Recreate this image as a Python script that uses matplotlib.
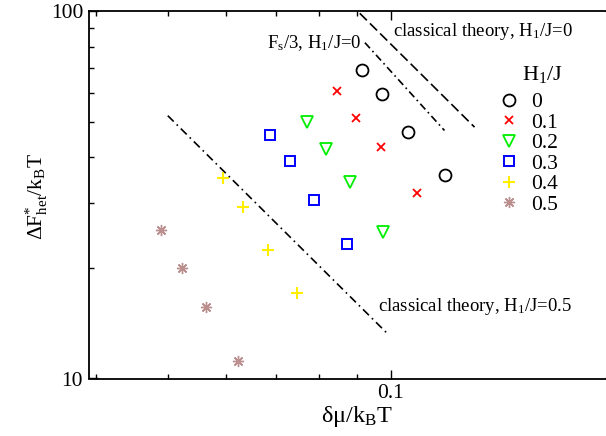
import numpy as np
import matplotlib
matplotlib.use("Agg")
import matplotlib.pyplot as plt
from matplotlib.ticker import LogLocator, NullFormatter, FixedLocator, FixedFormatter

plt.rcParams['font.family'] = ['Liberation Serif', 'DejaVu Serif']
plt.rcParams['mathtext.fontset'] = 'custom'
plt.rcParams['mathtext.rm'] = 'Liberation Serif'
plt.rcParams['mathtext.it'] = 'Liberation Serif:italic'

# ---- data ----
h_labels = ["0", "0.1", "0.2", "0.3", "0.4", "0.5"]
x_h00 = [0.0914, 0.0974, 0.1056, 0.1185]
y_h00 = [68.96, 59.34, 46.77, 35.86]
x_h01 = [0.0847, 0.0899, 0.0969, 0.1084]
y_h01 = [60.45, 51.25, 42.73, 31.97]
x_h02 = [0.0771, 0.0817, 0.0882, 0.0976]
y_h02 = [49.89, 42.12, 34.19, 24.99]
x_h03 = [0.0687, 0.0732, 0.0787, 0.0872]
y_h03 = [46.07, 39.14, 30.65, 23.18]
x_h04 = [0.0594, 0.0631, 0.0682, 0.0748]
y_h04 = [35.12, 29.34, 22.37, 17.05]
x_h05 = [0.0489, 0.0522, 0.0563, 0.0622]
y_h05 = [25.31, 19.95, 15.62, 11.16]

# theory lines (endpoints)
x_cl0 = [0.0880, 0.1298]
y_cl0 = [105.0, 48.3]
x_fs3 = [0.0923, 0.1182]
y_fs3 = [82.0, 47.3]
x_cl05 = [0.0500, 0.0991]
y_cl05 = [51.9, 13.22]

W, H = 606, 436
fig = plt.figure(figsize=(W / 100, H / 100), dpi=100)
ax_l, ax_r, ax_t, ax_b = 88.7, 613.6, 11.0, 378.5
aw, ah = ax_r - ax_l, ax_b - ax_t
ax = fig.add_axes([ax_l / W, (H - ax_b) / H, aw / W, ah / H])
ax.set_xscale('log')
ax.set_yscale('log')
ax.set_xlim(0.0391, 0.2)
ax.set_ylim(10, 100)

# theory lines
ax.plot(x_cl0, y_cl0, color='black', lw=1.2, ls=(0, (6, 2.6)))
ax.plot(x_fs3, y_fs3, color='black', lw=1.2, ls=(0, (4.5, 2.2, 1, 2.2)))
ax.plot(x_cl05, y_cl05, color='black', lw=1.2, ls=(0, (5, 2.5, 1, 2.5)))

# data
ax.plot(x_h00, y_h00, ls='none', marker='o', ms=8.6, mfc='none', mec='black', mew=1.3, label=h_labels[0])
ax.plot(x_h01, y_h01, ls='none', marker='x', ms=6.0, mec='red', mew=1.3, label=h_labels[1])
ax.plot(x_h02, y_h02, ls='none', marker='v', ms=8.5, mfc='none', mec='#00ee00', mew=1.3, label=h_labels[2])
ax.plot(x_h03, y_h03, ls='none', marker='s', ms=7.4, mfc='none', mec='blue', mew=1.4, label=h_labels[3])
ax.plot(x_h04, y_h04, ls='none', marker='+', ms=8.0, mec='#ffee00', mew=1.5, label=h_labels[4])
ax.plot(x_h05, y_h05, ls='none', marker=(8, 2, 0), ms=8.0, mec='rosybrown', mew=1.0, label=h_labels[5])

# ticks
ax.xaxis.set_major_locator(FixedLocator([0.1]))
ax.xaxis.set_major_formatter(FixedFormatter(['0.1']))
ax.xaxis.set_minor_locator(LogLocator(base=10, subs=np.arange(2, 10)))
ax.xaxis.set_minor_formatter(NullFormatter())
ax.yaxis.set_major_locator(FixedLocator([10, 100]))
ax.yaxis.set_major_formatter(FixedFormatter(['10', '100']))
ax.yaxis.set_minor_locator(LogLocator(base=10, subs=np.arange(2, 10)))
ax.yaxis.set_minor_formatter(NullFormatter())
ax.tick_params(which='both', direction='in', top=True, right=True, width=1.0, color='black')
ax.tick_params(which='major', length=6.5, labelsize=15.5, pad=4)
ax.tick_params(which='minor', length=3.3)
for s in ax.spines.values():
    s.set_linewidth(1.3)

ax.set_xlabel('δμ/k$_{\\rm B}$T', fontsize=17.5)
ax.xaxis.set_label_coords((357 - ax_l) / aw, (ax_b - 404) / ah)
ax.set_ylabel('ΔF$^{*}_{\\rm het}$/k$_{\\rm B}$T', fontsize=15.5)
ax.yaxis.set_label_coords((50 - ax_l) / aw, (ax_b - 196.5) / ah)

# annotations
ax.text(0.1008, 85.5, 'classical theory, H$_{\\rm 1}$/J=0', fontsize=13.5, ha='left', va='baseline')
ax.text(0.0680, 79.2, 'F$_{\\rm s}$/3, H$_{\\rm 1}$/J=0', fontsize=13.5, ha='left', va='baseline')
ax.text(0.0960, 15.27, 'classical theory, H$_{\\rm 1}$/J=0.5', fontsize=13.5, ha='left', va='baseline')

# legend
ax.text((542 - ax_l) / aw, (ax_b - 80) / ah, 'H$_{\\rm 1}$/J', fontsize=16,
        ha='center', va='baseline', transform=ax.transAxes)
leg = ax.legend(loc='center left', bbox_to_anchor=((498.5 - ax_l) / aw, (ax_b - 153.4) / ah),
                frameon=False, fontsize=15.5,
                handlelength=1.0, handletextpad=0.5, labelspacing=0.02, borderpad=0, borderaxespad=0,
                numpoints=1)

fig.savefig('out.png', dpi=100)
